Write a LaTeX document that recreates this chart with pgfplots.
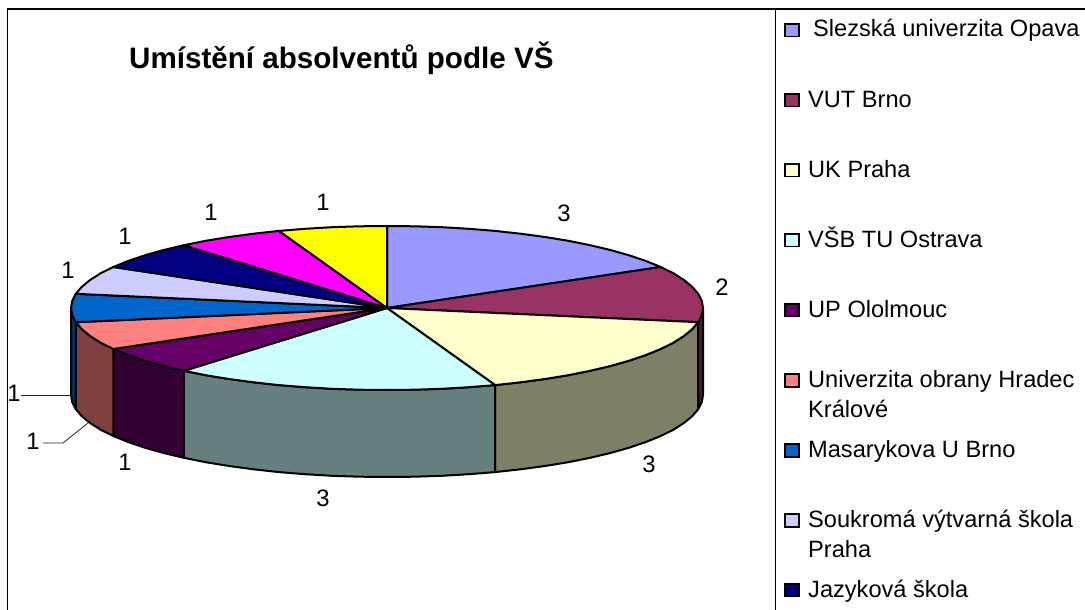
\documentclass[border=0pt]{standalone}
\usepackage{fontspec}
\setmainfont{Liberation Sans}
\usepackage{pgfplots}
\pgfplotsset{compat=1.18}
\definecolor{c1}{HTML}{9999FF}\definecolor{c2}{HTML}{993366}\definecolor{c3}{HTML}{FFFFCC}
\definecolor{c4}{HTML}{CCFFFF}\definecolor{c5}{HTML}{660066}\definecolor{c6}{HTML}{FF8080}
\definecolor{c7}{HTML}{0066CC}\definecolor{c8}{HTML}{CCCCFF}\definecolor{c9}{HTML}{000080}
\definecolor{c10}{HTML}{FF00FF}\definecolor{c11}{HTML}{FFFF00}
\definecolor{s2}{HTML}{4D1A33}\definecolor{s3}{HTML}{7F7F66}\definecolor{s4}{HTML}{667F7F}
\definecolor{s5}{HTML}{330033}\definecolor{s6}{HTML}{804040}\definecolor{s7}{HTML}{003366}
\pgfplotsset{
  sl/.style={draw=black,line width=2pt,line join=round},
  key/.style={draw=black,line width=1.8pt,line join=miter},
  lead/.style={draw=black!85,line width=0.8pt}
}
\newcommand{\leg}[3]{\node[anchor=base west,inner sep=0pt,font=\fontsize{23.6}{24}\selectfont] at (axis cs:#1,#2) {#3};}
\newcommand{\lab}[3]{\node[anchor=center,inner sep=0pt,font=\fontsize{23.8}{24}\selectfont] at (axis cs:#1,#2) {#3};}
\begin{document}
\begin{tikzpicture}
\begin{axis}[scale only axis,width=1085pt,height=610pt,xmin=0,xmax=1085,ymin=0,ymax=610,y dir=reverse,hide axis,clip=true]
% frame
\addplot[draw=black,line width=1.3pt] coordinates {(7.5,610)(7.5,9)(1085,9)};
\addplot[draw=black,line width=1.3pt] coordinates {(775.8,9)(775.8,610)};
% sides
\addplot[sl,fill=s2] coordinates {(703,308)(701.8,315.1)(698.2,322.2)(698.2,409.2)(701.8,402.1)(703,395)} --cycle;
\addplot[sl,fill=s3] coordinates {(698.2,322.2)(692.2,329.2)(683.9,336)(673.4,342.7)(660.7,349)(645.9,355)(629.1,360.7)(610.4,366)(590.1,370.8)(568.3,375.2)(545,379)(520.5,382.3)(495.1,385.1)(495.1,472.1)(520.5,469.3)(545,466)(568.3,462.2)(590.1,457.8)(610.4,453)(629.1,447.7)(645.9,442)(660.7,436)(673.4,429.7)(683.9,423)(692.2,416.2)(698.2,409.2)} --cycle;
\addplot[sl,fill=s4] coordinates {(495.1,385.1)(468.8,387.2)(441.9,388.8)(414.5,389.7)(387,390)(359.5,389.7)(332.1,388.8)(305.2,387.2)(278.9,385.1)(253.5,382.3)(229,379)(205.7,375.2)(183.9,370.8)(183.9,457.8)(205.7,462.2)(229,466)(253.5,469.3)(278.9,472.1)(305.2,474.2)(332.1,475.8)(359.5,476.7)(387,477)(414.5,476.7)(441.9,475.8)(468.8,474.2)(495.1,472.1)} --cycle;
\addplot[sl,fill=s5] coordinates {(183.9,370.8)(163.6,366)(144.9,360.7)(128.1,355)(113.3,349)(113.3,436)(128.1,442)(144.9,447.7)(163.6,453)(183.9,457.8)} --cycle;
\addplot[sl,fill=s6] coordinates {(113.3,349)(100.6,342.7)(90.1,336)(81.8,329.2)(75.8,322.2)(75.8,409.2)(81.8,416.2)(90.1,423)(100.6,429.7)(113.3,436)} --cycle;
\addplot[sl,fill=s7] coordinates {(75.8,322.2)(72.2,315.1)(71,308)(71,395)(72.2,402.1)(75.8,409.2)} --cycle;
% top
\addplot[sl,fill=c1] coordinates {(387,308)(387,226)(414.5,226.3)(441.9,227.2)(468.8,228.8)(495.1,230.9)(520.5,233.7)(545,237)(568.3,240.8)(590.1,245.2)(610.4,250)(629.1,255.3)(645.9,261)(660.7,267)} --cycle;
\addplot[sl,fill=c2] coordinates {(387,308)(660.7,267)(673.4,273.3)(683.9,280)(692.2,286.8)(698.2,293.8)(701.8,300.9)(703,308)(701.8,315.1)(698.2,322.2)} --cycle;
\addplot[sl,fill=c3] coordinates {(387,308)(698.2,322.2)(692.2,329.2)(683.9,336)(673.4,342.7)(660.7,349)(645.9,355)(629.1,360.7)(610.4,366)(590.1,370.8)(568.3,375.2)(545,379)(520.5,382.3)(495.1,385.1)} --cycle;
\addplot[sl,fill=c4] coordinates {(387,308)(495.1,385.1)(468.8,387.2)(441.9,388.8)(414.5,389.7)(387,390)(359.5,389.7)(332.1,388.8)(305.2,387.2)(278.9,385.1)(253.5,382.3)(229,379)(205.7,375.2)(183.9,370.8)} --cycle;
\addplot[sl,fill=c5] coordinates {(387,308)(183.9,370.8)(163.6,366)(144.9,360.7)(128.1,355)(113.3,349)} --cycle;
\addplot[sl,fill=c6] coordinates {(387,308)(113.3,349)(100.6,342.7)(90.1,336)(81.8,329.2)(75.8,322.2)} --cycle;
\addplot[sl,fill=c7] coordinates {(387,308)(75.8,322.2)(72.2,315.1)(71,308)(72.2,300.9)(75.8,293.8)} --cycle;
\addplot[sl,fill=c8] coordinates {(387,308)(75.8,293.8)(81.8,286.8)(90.1,280)(100.6,273.3)(113.3,267)} --cycle;
\addplot[sl,fill=c9] coordinates {(387,308)(113.3,267)(128.1,261)(144.9,255.3)(163.6,250)(183.9,245.2)} --cycle;
\addplot[sl,fill=c10] coordinates {(387,308)(183.9,245.2)(205.7,240.8)(229,237)(253.5,233.7)(278.9,230.9)} --cycle;
\addplot[sl,fill=c11] coordinates {(387,308)(278.9,230.9)(305.2,228.8)(332.1,227.2)(359.5,226.3)(387,226)} --cycle;
% leaders
\addplot[lead] coordinates {(21,395)(70,395)};
\addplot[lead] coordinates {(43,443)(63,443)(88,423)};
% legend keys
\addplot[key,fill=c1] coordinates {(785,24)(799.3,24)(799.3,36.5)(785,36.5)} --cycle;
\addplot[key,fill=c2] coordinates {(785,94)(799.3,94)(799.3,106.5)(785,106.5)} --cycle;
\addplot[key,fill=c3] coordinates {(785,164)(799.3,164)(799.3,176.5)(785,176.5)} --cycle;
\addplot[key,fill=c4] coordinates {(785,234)(799.3,234)(799.3,246.5)(785,246.5)} --cycle;
\addplot[key,fill=c5] coordinates {(785,304)(799.3,304)(799.3,316.5)(785,316.5)} --cycle;
\addplot[key,fill=c6] coordinates {(785,374)(799.3,374)(799.3,387)(785,387)} --cycle;
\addplot[key,fill=c7] coordinates {(785,444)(799.3,444)(799.3,457)(785,457)} --cycle;
\addplot[key,fill=c8] coordinates {(785,514)(799.3,514)(799.3,527)(785,527)} --cycle;
\addplot[key,fill=c9] coordinates {(785,584)(799.3,584)(799.3,596.5)(785,596.5)} --cycle;
% texts
\node[anchor=base west,inner sep=0pt,font=\fontsize{29.6}{30}\selectfont\bfseries] at (axis cs:129,69) {Umístění absolventů podle VŠ};
\leg{813}{37}{Slezská univerzita Opava}
\leg{808}{107}{VUT Brno}
\leg{808}{177}{UK Praha}
\leg{808}{247}{VŠB TU Ostrava}
\leg{808}{317}{UP Ololmouc}
\leg{808}{387}{Univerzita obrany Hradec}
\leg{808}{417}{Králové}
\leg{808}{457}{Masarykova U Brno}
\leg{808}{527}{Soukromá výtvarná škola}
\leg{808}{557}{Praha}
\leg{808}{597}{Jazyková škola}
\lab{564}{213}{3}
\lab{722}{287}{2}
\lab{649}{464}{3}
\lab{323}{498}{3}
\lab{125}{462}{1}
\lab{33}{441}{1}
\lab{14}{393}{1}
\lab{68}{270}{1}
\lab{125}{236}{1}
\lab{211}{212}{1}
\lab{323}{202}{1}
\end{axis}
\pgfresetboundingbox
\useasboundingbox (current axis.south west) rectangle (current axis.north east);
\end{tikzpicture}
\end{document}
